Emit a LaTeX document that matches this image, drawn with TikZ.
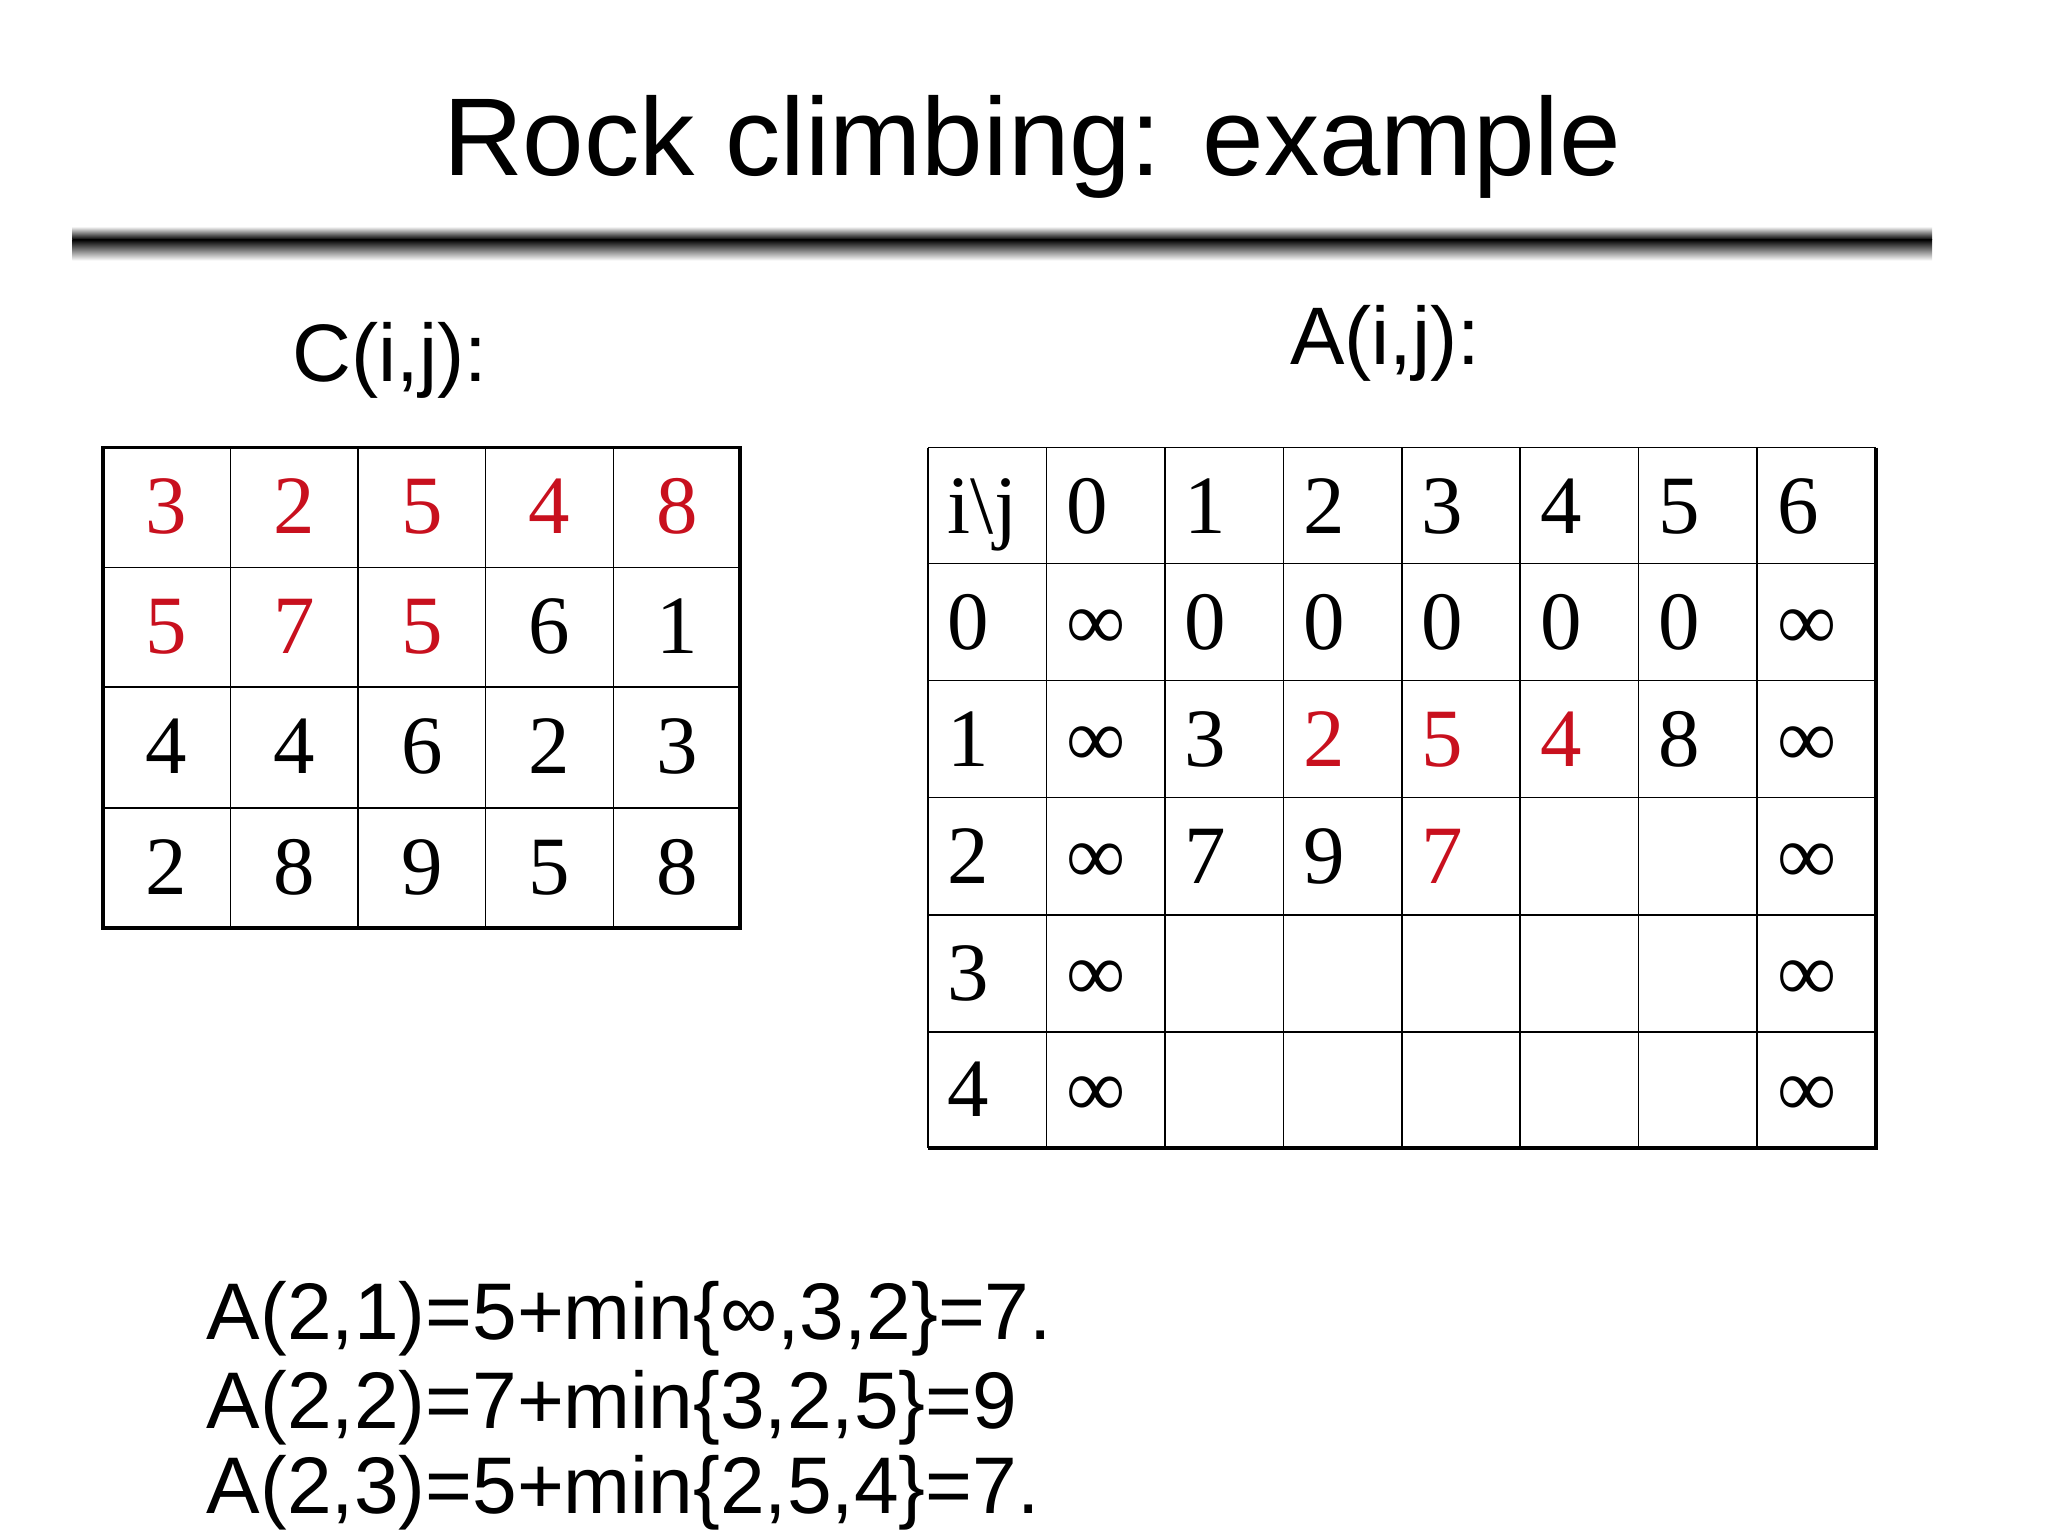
\documentclass[tikz,border=0pt]{standalone}
\usepackage{fontspec}
\setmainfont{Liberation Serif}
\setsansfont{Liberation Sans}
\definecolor{rd}{RGB}{200,16,30}
\begin{document}
\begin{tikzpicture}[x=1pt,y=-1pt,
  title/.style={font=\sffamily\fontsize{84}{90}\selectfont,anchor=base,inner sep=0},
  lab/.style={font=\sffamily\fontsize{62}{70}\selectfont,anchor=base west,inner sep=0},
  form/.style={font=\sffamily\fontsize{61}{66}\selectfont,anchor=base west,inner sep=0},
  dig/.style={font=\fontsize{63}{68}\selectfont,inner sep=0},
  thin/.style={line width=1.2pt},
  thick/.style={line width=3pt}]
\useasboundingbox (0,0) rectangle (1556,1168);
\node[title] (t) at (784,133) {Rock climbing: example};
\shade[top color=white,bottom color=black] (55,172) rectangle (1468,182);
\shade[top color=black,bottom color=white] (55,182) rectangle (1468,198);
\node[lab] (cl) at (222,290) {C(i,j):};
\node[lab] (al) at (980,277) {A(i,j):};
% C table
\foreach \x in {175,272,369,466} \draw[thin] (\x,340)--(\x,705);
\foreach \y in {431,522,614} \draw[thin] (78,\y)--(562,\y);
\draw[thick] (78,340) rectangle (562,705);
\foreach \r/\row in {0/{3,2,5,4,8},1/{5,7,5,6,1},2/{4,4,6,2,3},3/{2,8,9,5,8}}{
  \foreach \v [count=\c from 0] in \row {
    \pgfmathsetmacro\isred{(\r==0) || (\r==1 && \c<3) ? 1 : 0}
    \ifdim\isred pt>0.5pt \def\col{rd}\else\def\col{black}\fi
    \node[dig,anchor=base,text=\col] (c\r\c) at (126.5+97*\c,405+91.5*\r) {\v};
  }}
% A table
\foreach \x in {795,885,975,1065,1155,1245,1335} \draw[thin] (\x,340)--(\x,872);
\foreach \y in {428,517,606,695,784} \draw[thin] (705,\y)--(1425,\y);
\draw[thin] (705,340)--(1425,340);
\draw[thin] (705,340)--(705,872);
\draw[thick] (1425,340)--(1425,872)--(705,872);
\foreach \r/\row in {0/{i\textbackslash j,0,1,2,3,4,5,6},1/{0,∞,0,0,0,0,0,∞},2/{1,∞,3,2,5,4,8,∞},3/{2,∞,7,9,7,,,∞},4/{3,∞,,,,,,∞},5/{4,∞,,,,,,∞}}{
  \foreach \v [count=\c from 0] in \row {
    \pgfmathsetmacro\isred{(\r==2 && \c>2 && \c<6) || (\r==3 && \c==4) ? 1 : 0}
    \ifdim\isred pt>0.5pt \def\col{rd}\else\def\col{black}\fi
    \node[dig,anchor=base west,text=\col] (a\r\c) at (720+90*\c,405+88.7*\r) {\v};
  }}
\node[form] (f1) at (157,1018) {A(2,1)=5+min\{∞,3,2\}=7.};
\node[form] (f2) at (157,1085) {A(2,2)=7+min\{3,2,5\}=9};
\node[form] (f3) at (157,1150) {A(2,3)=5+min\{2,5,4\}=7.};
\end{tikzpicture}
\end{document}
